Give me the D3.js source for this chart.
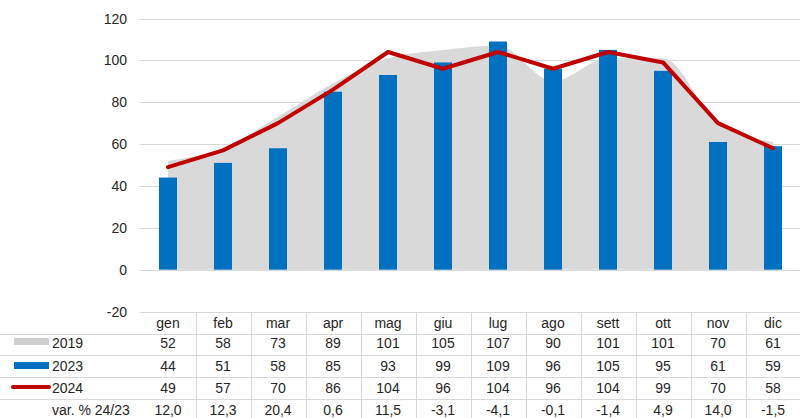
<!DOCTYPE html>
<html>
<head>
<meta charset="utf-8">
<script src="https://cdn.jsdelivr.net/npm/d3@7"></script>
<style>
  body { margin: 0; background: #fff; }
  text { font-family: "Liberation Sans", Arial, sans-serif; font-size: 14px; fill: #262626; }
</style>
</head>
<body>
<script>
// data
var months = ["gen", "feb", "mar", "apr", "mag", "giu", "lug", "ago", "sett", "ott", "nov", "dic"];
var v2019 = [52, 58, 73, 89, 101, 105, 107, 90, 101, 101, 70, 61];
var v2023 = [44, 51, 58, 85, 93, 99, 109, 96, 105, 95, 61, 59];
var v2024 = [49, 57, 70, 86, 104, 96, 104, 96, 104, 99, 70, 58];
var varPct = ["12,0", "12,3", "20,4", "0,6", "11,5", "-3,1", "-4,1", "-0,1", "-1,4", "4,9", "14,0", "-1,5"];
var yTicks = [-20, 0, 20, 40, 60, 80, 100, 120];

var width = 800, height = 418;
var left = 140.5, right = 800.5;
var gridColor = "#d9d9d9";

var svg = d3.select("body").append("svg")
    .attr("width", width)
    .attr("height", height);

var x = d3.scaleBand().domain(months).range([left, right]).paddingInner(0).paddingOuter(0);
var y = d3.scaleLinear().domain([-20, 120]).range([311.5, 18.5]);
var cx = d => x(d) + x.bandwidth() / 2;

// gridlines
svg.append("g").selectAll("line")
  .data(yTicks).enter().append("line")
    .attr("x1", left - 1).attr("x2", right)
    .attr("y1", d => Math.round(y(d)) + 0.5).attr("y2", d => Math.round(y(d)) + 0.5)
    .attr("stroke", gridColor);

// y axis labels
svg.append("g").selectAll("text")
  .data(yTicks).enter().append("text")
    .attr("x", 127)
    .attr("y", d => y(d) + 5)
    .attr("text-anchor", "end")
    .text(d => d);

// 2019 area
var area = d3.area()
    .x((d, i) => cx(months[i]))
    .y0(y(0))
    .y1(d => y(d))
    .curve(d3.curveMonotoneX);

svg.append("path")
    .datum(v2019)
    .attr("d", area)
    .attr("fill", "#d9d9d9");

// 2023 bars
var barW = 18;
svg.append("g").selectAll("rect")
  .data(v2023).enter().append("rect")
    .attr("x", (d, i) => cx(months[i]) - barW / 2)
    .attr("y", d => y(d))
    .attr("width", barW)
    .attr("height", d => y(0) - y(d))
    .attr("fill", "#0070c0");

// 2024 line
var line = d3.line()
    .x((d, i) => cx(months[i]))
    .y(d => y(d));

svg.append("path")
    .datum(v2024)
    .attr("d", line)
    .attr("fill", "none")
    .attr("stroke", "#c00000")
    .attr("stroke-width", 4)
    .attr("stroke-linejoin", "round")
    .attr("stroke-linecap", "round");

// data table
var rowLines = [334.5, 355.5, 377.5, 399.5];
svg.append("g").selectAll("line")
  .data(rowLines).enter().append("line")
    .attr("x1", 0).attr("x2", width)
    .attr("y1", d => d).attr("y2", d => d)
    .attr("stroke", gridColor);

svg.append("g").selectAll("line")
  .data(months.slice(1)).enter().append("line")
    .attr("x1", d => Math.round(x(d)) + 0.5).attr("x2", d => Math.round(x(d)) + 0.5)
    .attr("y1", 312).attr("y2", height)
    .attr("stroke", gridColor);

var rows = [
  { y: 328, vals: months },
  { y: 348, vals: v2019 },
  { y: 371, vals: v2023 },
  { y: 393, vals: v2024 },
  { y: 415, vals: varPct }
];

rows.forEach(function(r) {
  svg.append("g").selectAll("text")
    .data(r.vals).enter().append("text")
      .attr("x", (d, i) => cx(months[i]))
      .attr("y", r.y)
      .attr("text-anchor", "middle")
      .text(d => d);
});

// legend keys in the table
svg.append("rect").attr("x", 14).attr("y", 338).attr("width", 35).attr("height", 7).attr("fill", "#d0d0d0");
svg.append("rect").attr("x", 14).attr("y", 362).attr("width", 35).attr("height", 7).attr("fill", "#0070c0");
svg.append("line").attr("x1", 13).attr("x2", 49).attr("y1", 387).attr("y2", 387)
    .attr("stroke", "#c00000").attr("stroke-width", 4).attr("stroke-linecap", "round");

var labels = [["2019", 348], ["2023", 371], ["2024", 393], ["var. % 24/23", 415]];
svg.append("g").selectAll("text")
  .data(labels).enter().append("text")
    .attr("x", 52)
    .attr("y", d => d[1])
    .text(d => d[0]);
</script>
</body>
</html>
